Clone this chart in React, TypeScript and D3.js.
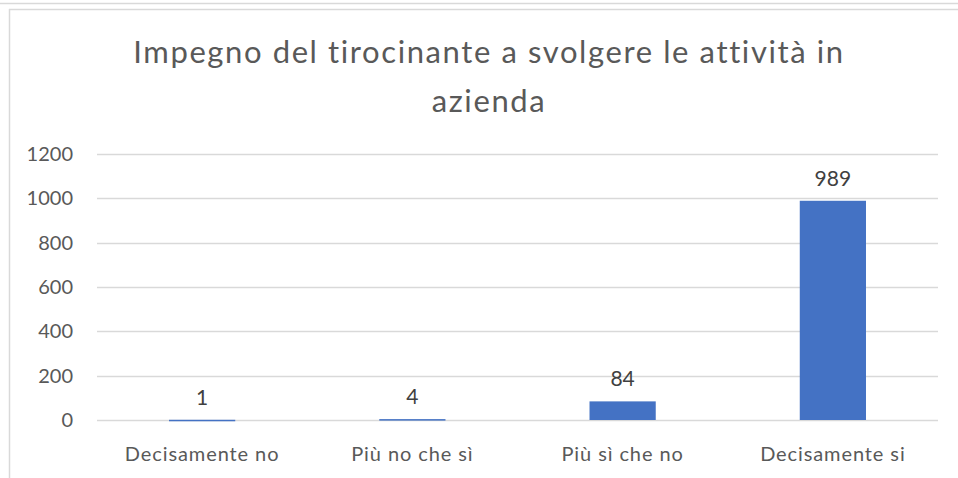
import React, { useEffect, useRef } from 'react';
import * as d3 from 'd3';

const categories = ['Decisamente no', 'Più no che sì', 'Più sì che no', 'Decisamente si'];
const values = [1, 4, 84, 989];
const yTicks = [0, 200, 400, 600, 800, 1000, 1200];
const titleLines = ['Impegno del tirocinante a svolgere le attività in', 'azienda'];

const W = 958;
const H = 478;
const FONT = 'Lato, "Noto Sans", sans-serif';
const TEXT = '#595959';

const App = () => {
    const svgRef = useRef<SVGSVGElement | null>(null);

    useEffect(() => {
        const svg = d3.select(svgRef.current);
        svg.selectAll('*').remove();

        const plot = { left: 97, right: 938, top: 154, bottom: 420 };

        // bordi del grafico
        svg.append('line').attr('x1', 0).attr('x2', W).attr('y1', 3.5).attr('y2', 3.5)
            .attr('stroke', '#d9d9d9').attr('stroke-width', 1.5);
        svg.append('line').attr('x1', 9).attr('x2', W).attr('y1', 9.5).attr('y2', 9.5)
            .attr('stroke', '#d9d9d9').attr('stroke-width', 1.5);
        svg.append('line').attr('x1', 9.5).attr('x2', 9.5).attr('y1', 9).attr('y2', H)
            .attr('stroke', '#d9d9d9').attr('stroke-width', 1.5);

        const x = d3.scaleBand()
            .domain(categories)
            .range([plot.left, plot.right])
            .paddingInner(0.685)
            .paddingOuter(0.3425);

        const y = d3.scaleLinear()
            .domain([0, 1200])
            .range([plot.bottom, plot.top]);

        // titolo
        svg.append('text')
            .attr('x', 489)
            .attr('y', 63)
            .attr('text-anchor', 'middle')
            .attr('font-family', FONT)
            .attr('font-size', 31)
            .attr('letter-spacing', 1.6)
            .attr('fill', TEXT)
            .selectAll('tspan')
            .data(titleLines)
            .enter()
            .append('tspan')
            .attr('x', 489)
            .attr('dy', (d, i) => (i === 0 ? 0 : 49))
            .text(d => d);

        // griglia
        svg.append('g')
            .selectAll('line')
            .data(yTicks)
            .enter()
            .append('line')
            .attr('x1', plot.left)
            .attr('x2', plot.right)
            .attr('y1', d => Math.round(y(d)) + 0.5)
            .attr('y2', d => Math.round(y(d)) + 0.5)
            .attr('stroke', '#d9d9d9')
            .attr('stroke-width', 1.5);

        svg.append('g')
            .selectAll('text')
            .data(yTicks)
            .enter()
            .append('text')
            .attr('x', 73)
            .attr('y', d => y(d))
            .attr('dy', '0.35em')
            .attr('text-anchor', 'end')
            .attr('font-family', FONT)
            .attr('font-size', 20)
            .attr('fill', TEXT)
            .text(d => d);

        // barre
        svg.append('g')
            .selectAll('rect')
            .data(values)
            .enter()
            .append('rect')
            .attr('x', (d, i) => x(categories[i]) as number)
            .attr('width', x.bandwidth())
            .attr('y', d => y(d))
            .attr('height', d => Math.max(plot.bottom - y(d), 1.5))
            .attr('fill', '#4472c4');

        svg.append('g')
            .selectAll('text')
            .data(values)
            .enter()
            .append('text')
            .attr('x', (d, i) => (x(categories[i]) as number) + x.bandwidth() / 2)
            .attr('y', d => y(d) - 15)
            .attr('text-anchor', 'middle')
            .attr('font-family', FONT)
            .attr('font-size', 21)
            .attr('fill', '#404040')
            .text(d => d);

        // etichette categorie
        svg.append('g')
            .selectAll('text')
            .data(categories)
            .enter()
            .append('text')
            .attr('x', d => (x(d) as number) + x.bandwidth() / 2)
            .attr('y', 461)
            .attr('text-anchor', 'middle')
            .attr('font-family', FONT)
            .attr('font-size', 20)
            .attr('letter-spacing', 0.9)
            .attr('fill', TEXT)
            .text(d => d);
    }, []);

    return (
        <svg ref={svgRef} width={W} height={H} style={{ position: 'absolute', left: 0, top: 0, background: '#fff' }} />
    );
};

export default App;
